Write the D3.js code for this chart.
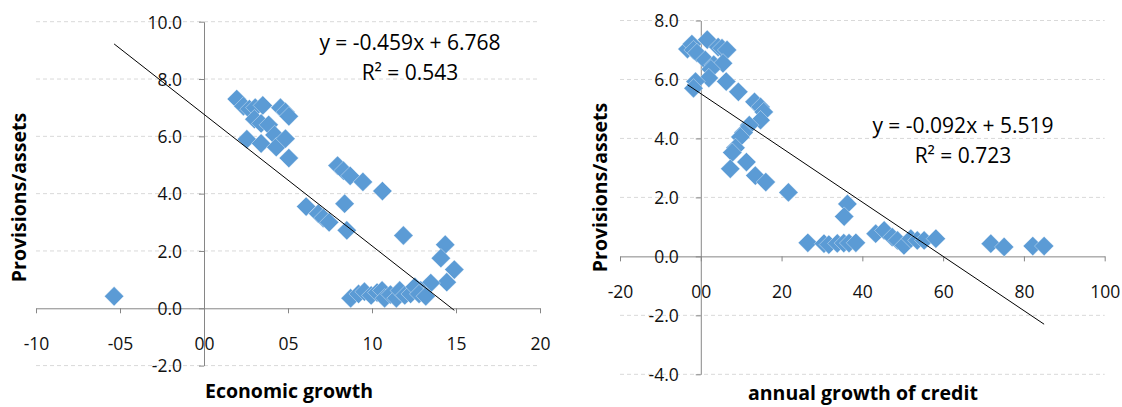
<!DOCTYPE html>
<html>
<head>
<meta charset="utf-8">
<script src="https://cdn.jsdelivr.net/npm/d3@7"></script>
<style>
  html, body { margin: 0; padding: 0; background: #fff; }
  svg { display: block; }
  text { font-family: "Open Sans", "DejaVu Sans", sans-serif; }
</style>
</head>
<body>
<svg id="chart" width="1122" height="407"></svg>
<script>
// ---------- DATA ----------
// Panel 1: Economic growth vs Provisions/assets
const growthX = [1.95, 2.35, 2.7, 3.05, 3.5, 4.55, 4.85, 5.05, 3.0, 3.4, 3.85, 4.2, 2.55, 3.4, 4.3, 4.85, 5.05,
  7.95, 8.3, 8.7, 9.46, 10.62, 8.37, 6.08, 6.8, 7.1, 7.45, 8.5, 11.87, 14.36, 14.1, 14.9, 14.45, 13.5, 12.9, -5.35,
  8.73, 9.2, 9.55, 9.95, 10.3, 10.6, 10.75, 11.1, 11.45, 11.65, 11.95, 12.3, 12.55, 12.8, 13.2];
const growthY = [7.3, 7.05, 6.95, 7.0, 7.08, 7.0, 6.85, 6.7, 6.6, 6.45, 6.4, 6.05, 5.9, 5.75, 5.62, 5.92, 5.24,
  4.98, 4.8, 4.62, 4.41, 4.09, 3.65, 3.55, 3.3, 3.15, 3.0, 2.72, 2.54, 2.22, 1.75, 1.35, 0.91, 0.88, 0.62, 0.42,
  0.35, 0.5, 0.58, 0.45, 0.55, 0.62, 0.35, 0.48, 0.35, 0.62, 0.45, 0.5, 0.75, 0.5, 0.42];
const growthTrend = [-0.459, 6.768, 0.543];           // slope, intercept, R²
const growthXTicks = [-10, -5, 0, 5, 10, 15, 20];
const growthXTickLabels = ["-10", "-05", "00", "05", "10", "15", "20"];
const growthYTicks = [-2, 0, 2, 4, 6, 8, 10];
const growthYTickLabels = ["-2.0", "0.0", "2.0", "4.0", "6.0", "8.0", "10.0"];

// Panel 2: Annual growth of credit vs Provisions/assets
const creditX = [-3.3, -2.2, -1.8, -0.95, 1.6, 4.3, 5.25, 6.5, 1.1, 3.2, 5.5, 2.5, 2.0, -1.3, -1.8, 6.3, 9.3,
  13.3, 14.8, 15.6, 14.8, 12.0, 10.6, 9.8, 8.6, 7.8, 11.3, 7.3, 13.5, 16.1, 21.7, 36.3, 35.5,
  26.5, 30.5, 31.7, 33.8, 35.4, 36.7, 38.4, 43.3, 45.4, 47.4, 48.7, 50.3, 52.0, 53.6, 55.3, 58.2,
  71.8, 75.1, 82.2, 85.0];
const creditY = [7.03, 7.2, 7.0, 6.9, 7.35, 7.1, 7.06, 7.0, 6.66, 6.5, 6.55, 6.35, 6.05, 5.93, 5.7, 5.93, 5.58,
  5.24, 5.07, 4.9, 4.62, 4.45, 4.2, 4.05, 3.68, 3.52, 3.2, 2.97, 2.74, 2.52, 2.17, 1.78, 1.35,
  0.46, 0.43, 0.40, 0.44, 0.45, 0.45, 0.46, 0.77, 0.88, 0.65, 0.54, 0.37, 0.6, 0.54, 0.54, 0.6,
  0.43, 0.32, 0.35, 0.35];
const creditTrend = [-0.092, 5.519, 0.723];
const creditXTicks = [-20, 0, 20, 40, 60, 80, 100];
const creditXTickLabels = ["-20", "00", "20", "40", "60", "80", "100"];
const creditYTicks = [-4, -2, 0, 2, 4, 6, 8];
const creditYTickLabels = ["-4.0", "-2.0", "0.0", "2.0", "4.0", "6.0", "8.0"];

const yTitle = "Provisions/assets";
const growthXTitle = "Economic growth";
const creditXTitle = "annual growth of credit";

// ---------- DRAWING ----------
const svg = d3.select("#chart");
const POINT = "#5b9bd5";
const AXIS = "#868686";
const GRID = "#d9d9d9";

function panel(o) {
  const g = svg.append("g");
  const x = d3.scaleLinear().domain(d3.extent(o.xTicks)).range(o.xRange);
  const y = d3.scaleLinear().domain(d3.extent(o.yTicks)).range(o.yRange);

  // gridlines
  g.append("g").selectAll("line")
    .data(o.yTicks.filter(d => d !== 0))
    .join("line")
    .attr("x1", o.xRange[0]).attr("x2", o.xRange[1])
    .attr("y1", d => y(d)).attr("y2", d => y(d))
    .attr("stroke", GRID).attr("stroke-width", 1)
    .attr("stroke-dasharray", "4,3");

  // x axis
  const xa = g.append("g")
    .attr("transform", `translate(0,${y(0)})`)
    .call(d3.axisBottom(x).tickValues(o.xTicks)
      .tickFormat((d, i) => o.xLabels[i]).tickSize(5).tickSizeOuter(0));
  // y axis
  const ya = g.append("g")
    .attr("transform", `translate(${x(0)},0)`)
    .call(d3.axisLeft(y).tickValues(o.yTicks)
      .tickFormat((d, i) => o.yLabels[i]).tickSize(5).tickPadding(17).tickSizeOuter(0));

  [xa, ya].forEach(a => {
    a.select(".domain").attr("stroke", AXIS);
    a.selectAll(".tick line").attr("stroke", AXIS);
    a.selectAll(".tick text")
      .attr("font-family", '"Open Sans", sans-serif')
      .attr("font-size", 17.5).attr("fill", "#111");
  });
  xa.selectAll(".tick text").attr("y", 35).attr("dy", "0.36em");
  ya.selectAll(".tick text").attr("dy", "0.36em");

  // points
  const sym = d3.symbol().type(d3.symbolSquare).size(186);
  g.append("g").selectAll("path")
    .data(o.xs.map((v, i) => [v, o.ys[i]]))
    .join("path")
    .attr("d", sym)
    .attr("transform", d => `translate(${x(d[0])},${y(d[1])}) rotate(45)`)
    .attr("fill", POINT)
    .attr("stroke", "#ffffff").attr("stroke-width", 0.35);

  // trendline
  const [m, b, r2] = o.trend;
  const ex = d3.extent(o.xs);
  g.append("line")
    .attr("x1", x(ex[0])).attr("y1", y(m * ex[0] + b))
    .attr("x2", x(ex[1])).attr("y2", y(m * ex[1] + b))
    .attr("stroke", "#000").attr("stroke-width", 1);

  // equation
  const eq = g.append("text").attr("text-anchor", "middle")
    .attr("font-size", 21).attr("fill", "#000");
  eq.append("tspan").attr("x", o.eqPos[0]).attr("y", o.eqPos[1])
    .text(`y = ${m.toFixed(3)}x + ${b.toFixed(3)}`);
  eq.append("tspan").attr("x", o.eqPos[0]).attr("y", o.eqPos[1] + 30)
    .text(`R² = ${r2.toFixed(3)}`);

  // axis titles
  g.append("text")
    .attr("x", o.xTitlePos[0]).attr("y", o.xTitlePos[1])
    .attr("font-size", 19.5).attr("font-weight", "bold").attr("fill", "#000")
    .text(o.xTitle);
  g.append("text")
    .attr("transform", `translate(${o.yTitlePos[0]},${o.yTitlePos[1]}) rotate(-90)`)
    .attr("text-anchor", "middle")
    .attr("font-size", 19.5).attr("font-weight", "bold").attr("fill", "#000")
    .text(yTitle);
}

panel({
  xs: growthX, ys: growthY, trend: growthTrend,
  xTicks: growthXTicks, xLabels: growthXTickLabels,
  yTicks: growthYTicks, yLabels: growthYTickLabels,
  xRange: [36, 540], yRange: [365.6, 21.7],
  eqPos: [410, 50], xTitle: growthXTitle, xTitlePos: [205, 398],
  yTitlePos: [26, 197.5]
});

panel({
  xs: creditX, ys: creditY, trend: creditTrend,
  xTicks: creditXTicks, xLabels: creditXTickLabels,
  yTicks: creditYTicks, yLabels: creditYTickLabels,
  xRange: [620, 1104.7], yRange: [374.3, 20.5],
  eqPos: [963, 133], xTitle: creditXTitle, xTitlePos: [748, 400],
  yTitlePos: [606.5, 187.5]
});
</script>
</body>
</html>
